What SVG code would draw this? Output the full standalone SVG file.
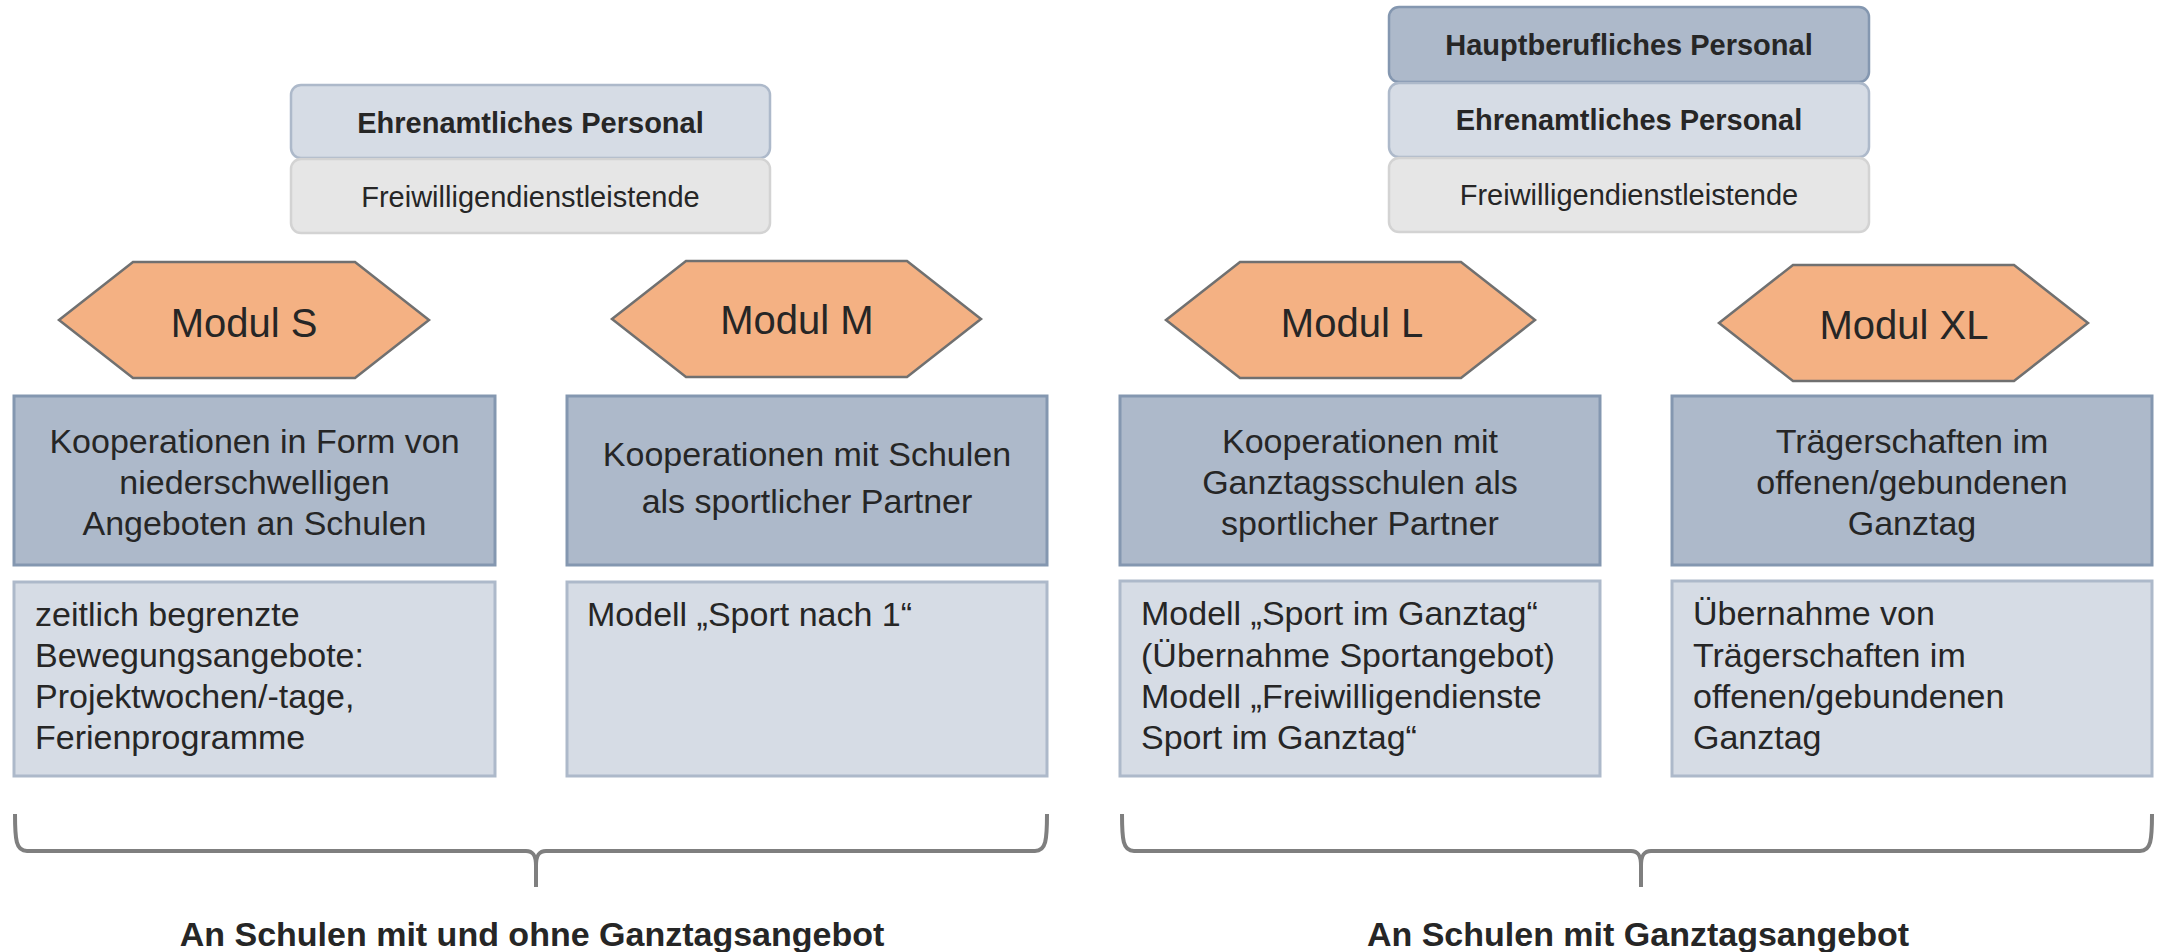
<svg xmlns="http://www.w3.org/2000/svg" width="2157" height="952" viewBox="0 0 2157 952">
<style>
text { font-family: "Liberation Sans", Arial, sans-serif; fill: #262626; }
.pers { font-size: 29px; text-anchor: middle; }
.b { font-weight: bold; }
.haupt { fill: #ADB9CA; stroke: #8497B0; stroke-width: 2.5; }
.ehren { fill: #D6DCE5; stroke: #ADB9CA; stroke-width: 2.5; }
.frei { fill: #E6E6E6; stroke: #D3D3D3; stroke-width: 2.5; }
.hex { fill: #F4B183; stroke: #707070; stroke-width: 2.5; }
.hext { font-size: 40px; text-anchor: middle; }
.dark { fill: #ADB9CA; stroke: #8497B0; stroke-width: 3; }
.light { fill: #D6DCE5; stroke: #ADB9CA; stroke-width: 3; }
.mid { font-size: 34px; text-anchor: middle; }
.left { font-size: 34px; }
.brace { fill: none; stroke: #7F7F7F; stroke-width: 4; }
.foot { font-size: 34px; font-weight: bold; text-anchor: middle; }
</style>

<g id="personal-left">
  <rect class="ehren" x="291" y="85" width="479" height="73" rx="10"/>
  <text class="pers b" x="530.5" y="133">Ehrenamtliches Personal</text>
  <rect class="frei" x="291" y="159" width="479" height="74" rx="10"/>
  <text class="pers" x="530.5" y="207">Freiwilligendienstleistende</text>
</g>

<g id="personal-right">
  <rect class="haupt" x="1389" y="7" width="480" height="75" rx="10"/>
  <text class="pers b" x="1629" y="55">Hauptberufliches Personal</text>
  <rect class="ehren" x="1389" y="83" width="480" height="74" rx="10"/>
  <text class="pers b" x="1629" y="130">Ehrenamtliches Personal</text>
  <rect class="frei" x="1389" y="158" width="480" height="74" rx="10"/>
  <text class="pers" x="1629" y="205">Freiwilligendienstleistende</text>
</g>

<g id="modul-s">
  <polygon class="hex" points="59,320 133,262 355,262 429,320 355,378 133,378"/>
  <text class="hext" x="244" y="337">Modul S</text>
</g>
<g id="modul-m">
  <polygon class="hex" points="612,319 686,261 907,261 981,319 907,377 686,377"/>
  <text class="hext" x="797" y="334">Modul M</text>
</g>
<g id="modul-l">
  <polygon class="hex" points="1166,320 1240,262 1461,262 1535,320 1461,378 1240,378"/>
  <text class="hext" x="1352" y="337">Modul L</text>
</g>
<g id="modul-xl">
  <polygon class="hex" points="1719,323 1793,265 2014,265 2088,323 2014,381 1793,381"/>
  <text class="hext" x="1904" y="339">Modul XL</text>
</g>

<g id="box-s">
  <rect class="dark" x="14" y="396" width="481" height="169"/>
  <text class="mid" x="254.5" y="453">Kooperationen in Form von</text>
  <text class="mid" x="254.5" y="494">niederschwelligen</text>
  <text class="mid" x="254.5" y="535">Angeboten an Schulen</text>
</g>
<g id="box-m">
  <rect class="dark" x="567" y="396" width="480" height="169"/>
  <text class="mid" x="807" y="466">Kooperationen mit Schulen</text>
  <text class="mid" x="807" y="513">als sportlicher Partner</text>
</g>
<g id="box-l">
  <rect class="dark" x="1120" y="396" width="480" height="169"/>
  <text class="mid" x="1360" y="453">Kooperationen mit</text>
  <text class="mid" x="1360" y="494">Ganztagsschulen als</text>
  <text class="mid" x="1360" y="535">sportlicher Partner</text>
</g>
<g id="box-xl">
  <rect class="dark" x="1672" y="396" width="480" height="169"/>
  <text class="mid" x="1912" y="453">Trägerschaften im</text>
  <text class="mid" x="1912" y="494">offenen/gebundenen</text>
  <text class="mid" x="1912" y="535">Ganztag</text>
</g>

<g id="detail-s">
  <rect class="light" x="14" y="582" width="481" height="194"/>
  <text class="left" x="35" y="626">zeitlich begrenzte</text>
  <text class="left" x="35" y="667">Bewegungsangebote:</text>
  <text class="left" x="35" y="708">Projektwochen/-tage,</text>
  <text class="left" x="35" y="749">Ferienprogramme</text>
</g>
<g id="detail-m">
  <rect class="light" x="567" y="582" width="480" height="194"/>
  <text class="left" x="587" y="626">Modell „Sport nach 1“</text>
</g>
<g id="detail-l">
  <rect class="light" x="1120" y="581" width="480" height="195"/>
  <text class="left" x="1141" y="625">Modell „Sport im Ganztag“</text>
  <text class="left" x="1141" y="667">(Übernahme Sportangebot)</text>
  <text class="left" x="1141" y="708">Modell „Freiwilligendienste</text>
  <text class="left" x="1141" y="749">Sport im Ganztag“</text>
</g>
<g id="detail-xl">
  <rect class="light" x="1672" y="581" width="480" height="195"/>
  <text class="left" x="1693" y="625">Übernahme von</text>
  <text class="left" x="1693" y="667">Trägerschaften im</text>
  <text class="left" x="1693" y="708">offenen/gebundenen</text>
  <text class="left" x="1693" y="749">Ganztag</text>
</g>

<g id="connectors">
  <path class="brace" d="M15,814 C15,840 16,851 27,851 L526,851 C533,851 536,855 536,866 L536,887 M536,866 C536,855 539,851 546,851 L1035,851 C1046,851 1047,840 1047,814"/>
  <path class="brace" d="M1122,814 C1122,840 1123,851 1134,851 L1631,851 C1638,851 1641,855 1641,866 L1641,887 M1641,866 C1641,855 1644,851 1651,851 L2140,851 C2151,851 2152,840 2152,814"/>
</g>

<g id="label-left">
  <text class="foot" x="532" y="946">An Schulen mit und ohne Ganztagsangebot</text>
</g>
<g id="label-right">
  <text class="foot" x="1638" y="946">An Schulen mit Ganztagsangebot</text>
</g>
</svg>
